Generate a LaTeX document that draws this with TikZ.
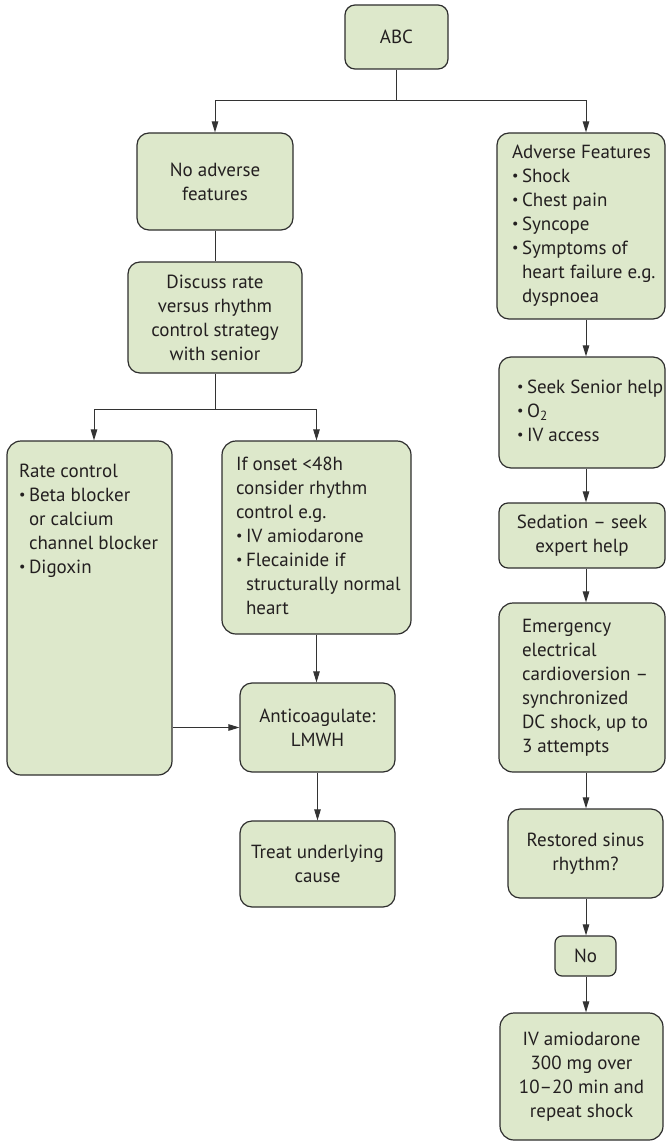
\documentclass[tikz,border=0pt]{standalone}
\usepackage{fontspec}
\setmainfont{PT Sans}
\usetikzlibrary{arrows.meta}
\definecolor{boxfill}{HTML}{DDE8CB}
\definecolor{ink}{HTML}{231F20}
\definecolor{edge}{HTML}{2E2E2E}
\definecolor{wire}{HTML}{333333}
% bullet and continuation indent for the listed items
\newcommand\bitem{\makebox[10pt][l]{\raisebox{0.12em}{\scalebox{0.75}{\textbullet}}}}
\newcommand\cont{\hspace*{10pt}}
% a left-aligned block of lines in a field of the given width (no wrapping)
\newcommand\leftlines[2]{\makebox[#1][l]{\begin{tabular}{@{}l@{}}#2\end{tabular}}}

\begin{document}
\begin{tikzpicture}[x=1pt,y=-1pt,
  box/.style={draw=edge, line width=1.2pt, fill=boxfill, rounded corners=12pt,
    inner sep=0pt, text=ink, font=\fontsize{19}{24}\selectfont, align=center},
  conn/.style={draw=wire, line width=1pt},
  arr/.style={conn, -{Triangle[length=11pt,width=6.5pt]}}]
\useasboundingbox (0,0) rectangle (666,1142);

% helper positions for the branch lines and the right-hand column
\coordinate (splitA) at (0,101);
\coordinate (splitB) at (0,409);
\coordinate (rcol) at (586,0);

% ---- top ----
\node[box, minimum width=103pt, minimum height=64pt, rounded corners=10pt] (abc) at (396.5,37) {ABC};

% ---- left branch ----
\node[box, minimum width=156pt, minimum height=97pt] (noadv) at (215,181.5) {No adverse\\features};
\node[box, minimum width=174pt, minimum height=111pt] (discuss) at (215,317.5)
  {Discuss rate\\versus rhythm\\control strategy\\with senior};
\node[box, minimum width=165pt, minimum height=334pt, rounded corners=14pt] (rate) at (89.5,608)
  {\begin{minipage}[c][294pt][t]{141pt}
   \leftlines{141pt}{Rate control\\
   \bitem Beta blocker\\
   \cont or calcium\\
   \cont channel blocker\\
   \bitem Digoxin}
   \end{minipage}};
\node[box, minimum width=189pt, minimum height=193pt, rounded corners=14pt] (rhythm) at (316.5,537.5)
  {\leftlines{161pt}{If onset <48h\\
   consider rhythm\\
   control e.g.\\
   \bitem IV amiodarone\\
   \bitem Flecainide if\\
   \cont structurally normal\\
   \cont heart}};
\node[box, minimum width=155pt, minimum height=89pt] (anticoag) at (317.5,727.5) {Anticoagulate:\\LMWH};
\node[box, minimum width=155pt, minimum height=86pt] (treat) at (317.5,864) {Treat underlying\\cause};

% ---- right branch ----
\node[box, minimum width=168pt, minimum height=186pt] (adverse) at (581,226)
  {\leftlines{138pt}{Adverse Features\\
   \bitem Shock\\
   \bitem Chest pain\\
   \bitem Syncope\\
   \bitem Symptoms of\\
   \cont heart failure e.g.\\
   \cont dyspnoea}};
\node[box, minimum width=166pt, minimum height=111pt] (seek) at (582,412.5)
  {\leftlines{130pt}{\bitem Seek Senior help\\
   \bitem O\textsubscript{2}\\
   \bitem IV access}};
\node[box, minimum width=166pt, minimum height=65pt, rounded corners=9pt] (sedation) at (582,535.5)
  {Sedation – seek\\expert help};
\node[box, minimum width=166pt, minimum height=169pt, rounded corners=14pt] (emergency) at (582,687.5)
  {\leftlines{120pt}{Emergency\\
   electrical\\
   cardioversion –\\
   synchronized\\
   DC shock, up to\\
   3 attempts}};
\node[box, minimum width=155pt, minimum height=89pt] (restored) at (585.5,853.5) {Restored sinus\\rhythm?};
\node[box, minimum width=61pt, minimum height=40pt, rounded corners=7pt] (no) at (585.5,956) {No};
\node[box, minimum width=163pt, minimum height=127pt, rounded corners=14pt] (iv) at (581.5,1076.5)
  {IV amiodarone\\300 mg over\\10–20 min and\\repeat shock};

% ---- connectors ----
\draw[arr] (abc.south) -- (abc.south |- splitA) -| (noadv.north);
\draw[arr] (abc.south |- splitA) -| (adverse.north -| rcol);
\draw[conn] (noadv.south) -- (discuss.north);
\draw[arr] (discuss.south) -- (discuss.south |- splitB) -| ([xshift=4.5pt]rate.north);
\draw[arr] (discuss.south |- splitB) -| (rhythm.north);
\draw[arr] (rhythm.south) -- (rhythm.south |- anticoag.north);
\draw[arr] (rate.east |- anticoag.west) -- (anticoag.west);
\draw[arr] (anticoag.south) -- (treat.north);

\draw[arr] (adverse.south -| rcol) -- (seek.north -| rcol);
\draw[arr] (seek.south -| rcol) -- (sedation.north -| rcol);
\draw[arr] (sedation.south -| rcol) -- (emergency.north -| rcol);
\draw[arr] (emergency.south -| rcol) -- (restored.north -| rcol);
\draw[arr] (restored.south -| rcol) -- (no.north -| rcol);
\draw[arr] (no.south -| rcol) -- (iv.north -| rcol);
\end{tikzpicture}
\end{document}
